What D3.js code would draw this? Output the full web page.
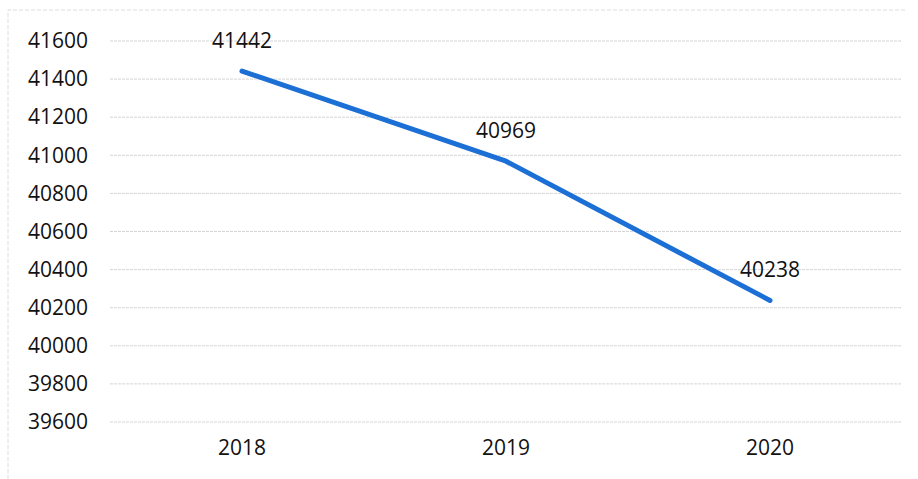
<!DOCTYPE html>
<html><head><meta charset="utf-8">
<script src="https://cdn.jsdelivr.net/npm/d3@7"></script>
<style>html,body{margin:0;padding:0;background:#fff;}svg{display:block;}</style>
</head><body>
<svg id="chart" width="918" height="479"></svg>
<script>
const categories = ["2018", "2019", "2020"];
const values = [41442, 40969, 40238];
const yTicks = [39600, 39800, 40000, 40200, 40400, 40600, 40800, 41000, 41200, 41400, 41600];

const svg = d3.select("#chart");
const W = 918, H = 479;
const m = {left: 110, right: 16, top: 41, bottom: 57};
const font = "'Open Sans', 'Liberation Sans', sans-serif";

// outer frame (light dashed)
svg.append("path")
  .attr("d", `M8,${H} L8,10 L905,10`)
  .attr("fill", "none").attr("stroke", "#dcdcdc").attr("stroke-width", 1)
  .attr("stroke-dasharray", "4,2");

const x = d3.scaleBand().domain(categories).range([m.left, W - m.right]);
const y = d3.scaleLinear().domain([39600, 41600]).range([H - m.bottom, m.top]);

// gridlines
svg.append("g").selectAll("line").data(yTicks).join("line")
  .attr("x1", m.left).attr("x2", W - m.right)
  .attr("y1", d => y(d)).attr("y2", d => y(d))
  .attr("stroke", "#d4d4d4").attr("stroke-width", 1)
  .attr("stroke-dasharray", "3,1");

// y axis
const yAxis = svg.append("g").attr("transform", `translate(${m.left},0)`)
  .call(d3.axisLeft(y).tickValues(yTicks).tickSize(0).tickPadding(22).tickFormat(d3.format("d")));
yAxis.select(".domain").remove();
yAxis.selectAll("text").attr("font-family", font).attr("font-size", 21).attr("fill", "#111");

// x axis
const xAxis = svg.append("g").attr("transform", `translate(0,${H - m.bottom})`)
  .call(d3.axisBottom(x).tickSize(0).tickPadding(18));
xAxis.select(".domain").remove();
xAxis.selectAll("text").attr("font-family", font).attr("font-size", 21).attr("fill", "#111");

const data = categories.map((c, i) => ({c, v: values[i]}));
const px = d => x(d.c) + x.bandwidth() / 2;

svg.append("path").datum(data)
  .attr("d", d3.line().x(px).y(d => y(d.v)))
  .attr("fill", "none").attr("stroke", "#1c6fd4").attr("stroke-width", 5)
  .attr("stroke-linecap", "round").attr("stroke-linejoin", "round");

svg.append("g").selectAll("text").data(data).join("text")
  .attr("x", px).attr("y", d => y(d.v) - 23)
  .attr("text-anchor", "middle")
  .attr("font-family", font).attr("font-size", 21).attr("fill", "#111")
  .text(d => d.v);
</script>
</body></html>
